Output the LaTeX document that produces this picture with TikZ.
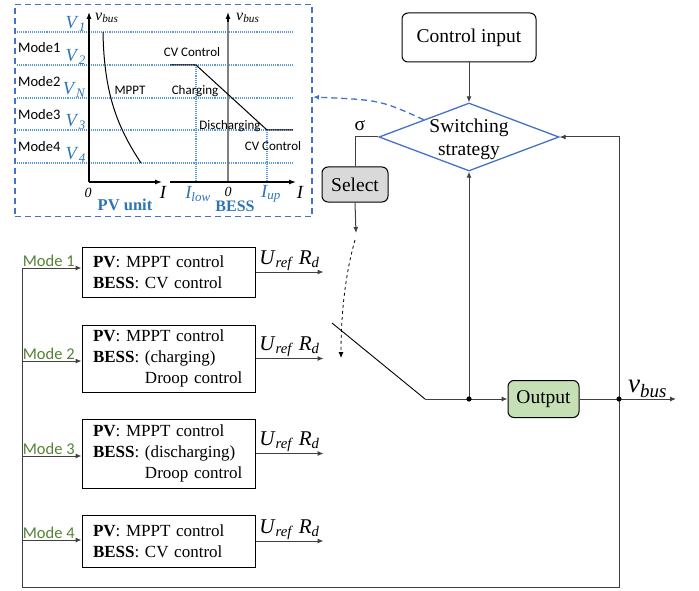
\documentclass[tikz,border=0pt]{standalone}
\usepackage{fontspec}
\setmainfont{Liberation Serif}
\newfontfamily\chartsans{Carlito}
\usetikzlibrary{shapes.geometric,arrows.meta,positioning}

\definecolor{chartblue}{RGB}{46,117,182}
\definecolor{levelblue}{RGB}{91,155,213}
\definecolor{frameblue}{RGB}{68,114,196}
\definecolor{modegreen}{RGB}{84,130,53}
\definecolor{outfill}{RGB}{197,224,180}
\definecolor{selfill}{RGB}{217,217,217}
\definecolor{wiregray}{RGB}{64,64,64}

\newcommand{\blocksize}{\fontsize{19.5}{23}\selectfont}
\newcommand{\boxsize}{\fontsize{17}{21}\selectfont}
\newcommand{\refsize}{\fontsize{21}{24}\selectfont}
\newcommand{\vbussize}{\fontsize{27}{30}\selectfont}
\newcommand{\modesize}{\chartsans\fontsize{16.5}{19}\selectfont}
\newcommand{\chartmode}{\chartsans\fontsize{14.5}{17}\selectfont}
\newcommand{\chartlbl}{\chartsans\fontsize{13}{15}\selectfont}
\newcommand{\axsize}{\fontsize{18.5}{20}\selectfont}

\begin{document}
\begin{tikzpicture}[x=1pt,y=-1pt,
  wire/.style={draw=wiregray, line width=1pt},
  arrowed/.style={wire, -{Latex[length=6pt,width=5pt]}},
  modebox/.style={draw, line width=1pt, text width=151pt, align=left, inner xsep=11pt, inner ysep=2pt, font=\boxsize},
  roundbox/.style={draw, line width=1pt, rounded corners=6pt, inner sep=2pt, font=\blocksize},
  strategybox/.style={diamond, draw=frameblue, line width=1.3pt, minimum width=180pt, minimum height=68pt, inner sep=0pt},
  modetag/.style={text=modegreen, font=\modesize, inner sep=1pt, xshift=-3pt},
  reflabel/.style={font=\refsize, inner sep=1pt},
  levelline/.style={levelblue, densely dotted, line width=1.1pt},
  axis/.style={line width=1.2pt, -{Latex[length=7pt,width=5pt]}},
  vlabel/.style={text=chartblue, font=\axsize, anchor=base east, inner sep=0pt},
  chartlabel/.style={font=\chartlbl, inner sep=0pt},
]
\useasboundingbox (0,0) rectangle (699,591);

  %% zoomed characteristics
  \node[draw=frameblue, dash pattern=on 6pt off 4pt, line width=1.3pt,
        minimum width=297pt, minimum height=212pt, inner sep=0pt] (chartbox) at (163.5,110.5) {};
  \foreach \lv in {32,65,98,130,163}
    \draw[levelline] (17,\lv) -- (293,\lv);
  \node[vlabel] (v1) at (86,29) {\textit{V}\textsubscript{\textit{1}}};
  \node[vlabel] (v2) at (86,62) {\textit{V}\textsubscript{\textit{2}}};
  \node[vlabel] (vn) at (86,95) {\textit{V}\textsubscript{\textit{N}}};
  \node[vlabel] (v3) at (86,127) {\textit{V}\textsubscript{\textit{3}}};
  \node[vlabel] (v4) at (86,160) {\textit{V}\textsubscript{\textit{4}}};
  \node[font=\chartmode, anchor=west, inner sep=0pt] (cm1) at (18,48) {Mode1};
  \node[font=\chartmode, anchor=west, inner sep=0pt] (cm2) at (18,82) {Mode2};
  \node[font=\chartmode, anchor=west, inner sep=0pt] (cm3) at (18,115) {Mode3};
  \node[font=\chartmode, anchor=west, inner sep=0pt] (cm4) at (18,147) {Mode4};

  %% PV unit
  \draw[axis] (89,182) -- (89,12);
  \draw[axis] (89,182) -- (162,182);
  \draw[line width=1pt] (103,32) .. controls (104,95) and (118,128) .. (141,163);
  \node[chartlabel] (mppt) at (130,90) {MPPT};
  \node[font=\fontsize{16}{18}\selectfont\itshape, anchor=west, inner sep=0pt] (pvv) at (95,18) {v\textsubscript{bus}};
  \node[font=\fontsize{14}{16}\selectfont\itshape] (pvzero) at (88,193) {0};
  \node[font=\axsize\itshape] (pvi) at (163,192) {I};
  \node[font=\fontsize{16.5}{18}\selectfont\bfseries, text=chartblue] (pvname) at (125,205) {PV unit};

  %% BESS
  \draw[levelline] (196,65) -- (196,182);
  \draw[levelline] (267,130) -- (267,182);
  \draw[gray, line width=2.4pt] (228,182) -- (228,20);
  \draw[axis] (228,22) -- (228,12);
  \draw[axis] (170,182) -- (296,182);
  \draw[line width=1pt] (170,65) -- (196,65) -- (267,130) -- (293,130);
  \node[chartlabel] (cvtop) at (192,52) {CV Control};
  \node[chartlabel] (chg) at (195,91) {Charging};
  \node[chartlabel] (dchg) at (230,126) {Discharging};
  \node[chartlabel] (cvbot) at (273,146) {CV Control};
  \node[font=\fontsize{16}{18}\selectfont\itshape, anchor=west, inner sep=0pt] (bessv) at (236,18) {v\textsubscript{bus}};
  \node[font=\fontsize{14}{16}\selectfont\itshape] (besszero) at (228,192) {0};
  \node[font=\axsize\itshape, text=chartblue] (ilow) at (198,194) {I\textsubscript{low}};
  \node[font=\axsize\itshape, text=chartblue] (iup) at (271,194) {I\textsubscript{up}};
  \node[font=\axsize\itshape] (bessi) at (300,192) {I};
  \node[font=\fontsize{16}{18}\selectfont\bfseries, text=chartblue] (bessname) at (235,206) {BESS};

  %% switching logic
  \node[roundbox, minimum width=134pt, minimum height=49pt] (ctrl) at (469,37.5) {Control input};
  \node[strategybox] (strategy) at (469,137) {};
  \node[font=\blocksize, align=center, inner sep=0pt] (strategytxt) at (469,139) {Switching\\strategy};
  \node[roundbox, fill=selfill, minimum width=66pt, minimum height=35pt] (select) at (355,184.5) {Select};
  \node[font=\blocksize, inner sep=0pt] (sigma) at (360,126) {σ};
  \node[roundbox, fill=outfill, minimum width=71pt, minimum height=37pt] (output) at (543.5,399) {Output};

  \coordinate (chartin) at (313,97);
  \coordinate (seltip) at (356,233);
  \coordinate (dashtop) at (355,240);
  \coordinate (dashend) at (341,358);
  \coordinate (swtop) at (332,323);
  \coordinate (swpivot) at (425,399);
  \coordinate (fbdot) at (469,399);
  \coordinate (vbusdot) at (619,399);
  \coordinate (vbusout) at (676,399);
  \coordinate (bus1) at (22,268);
  \coordinate (bus2) at (22,361);
  \coordinate (bus3) at (22,456);
  \coordinate (bus4) at (22,540);
  \coordinate (busbot) at (22,587);

  \draw[frameblue, dash pattern=on 6pt off 4pt, line width=1.3pt, -{Latex[length=6pt,width=5pt]}]
    (strategy.north west) .. controls (380,100) .. (chartin);
  \draw[arrowed] (ctrl) -- (strategy.north);
  \draw[wire] (strategy.west) -| (select.north);
  \draw[arrowed] (select.south) -- (seltip);
  \draw[line width=0.8pt, dashed, -{Latex[length=6pt,width=5pt]}]
    (dashtop) .. controls (345,275) and (341,315) .. (dashend);

  %% mode blocks
  \node[modebox, minimum height=50pt] (mode1) at (168.5,272)
    {\textbf{PV}: MPPT control\\\textbf{BESS}: CV control};
  \node[modebox, minimum height=67pt] (mode2) at (168.5,358.5)
    {\textbf{PV}: MPPT control\\\textbf{BESS}: (charging)\\\phantom{\textbf{BESS}: }Droop control};
  \node[modebox, minimum height=69pt] (mode3) at (168.5,453.5)
    {\textbf{PV}: MPPT control\\\textbf{BESS}: (discharging)\\\phantom{\textbf{BESS}: }Droop control};
  \node[modebox, minimum height=52pt] (mode4) at (168.5,541)
    {\textbf{PV}: MPPT control\\\textbf{BESS}: CV control};

  \draw[arrowed] (bus1) -- node[modetag, above]{Mode 1} (bus1 -| mode1.west);
  \draw[arrowed] (bus2) -- node[modetag, above]{Mode 2} (bus2 -| mode2.west);
  \draw[arrowed] (bus3) -- node[modetag, above]{Mode 3} (bus3 -| mode3.west);
  \draw[arrowed] (bus4) -- node[modetag, above]{Mode 4} (bus4 -| mode4.west);

  \foreach \m in {1,2,3,4}
    \draw[arrowed] (mode\m.east) -- node[reflabel, above]
      {\textit{U}\textsubscript{\textit{ref}} \textit{R}\textsubscript{\textit{d}}} +(68,0);

  %% switch and output
  \draw[line width=0.9pt] (swtop) -- (swpivot);
  \draw[arrowed] (swpivot) -- (output.west);
  \draw[arrowed] (fbdot) -- (strategy.south);
  \draw[wire] (output.east) -- (vbusdot);
  \draw[arrowed] (vbusdot) -- node[font=\vbussize\itshape, above, inner sep=1pt]{v\textsubscript{bus}} (vbusout);
  \draw[arrowed] (vbusdot) |- (strategy.east);
  \draw[wire] (vbusdot) |- (busbot) -- (bus1);
  \fill (fbdot) circle (2.6pt);
  \fill (vbusdot) circle (2.6pt);

\end{tikzpicture}
\end{document}
